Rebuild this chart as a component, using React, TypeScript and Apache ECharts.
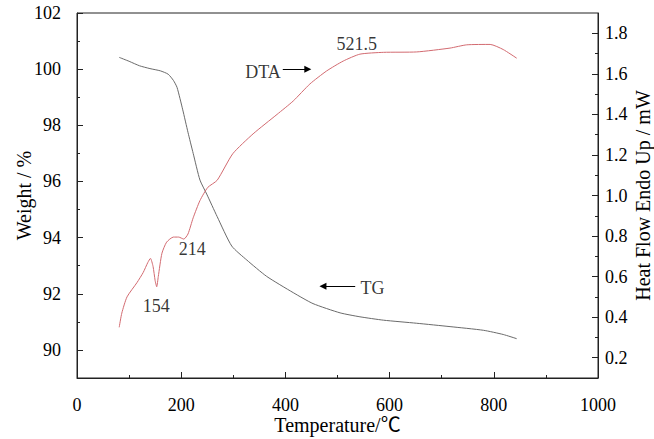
import React, { useEffect, useRef } from "react";
import * as echarts from "echarts";

// TG curve (left axis, Weight / %)
const tgTemp = [81, 100, 120, 140, 160, 175, 185, 192, 203, 213, 223, 236, 249, 269, 297, 326, 364, 415, 453, 505, 543, 588, 652, 716, 780, 818, 844];
const tgWeight = [100.42, 100.28, 100.12, 100.02, 99.94, 99.82, 99.6, 99.35, 98.55, 97.75, 97.0, 96.05, 95.55, 94.75, 93.7, 93.2, 92.62, 92.04, 91.65, 91.32, 91.18, 91.06, 90.95, 90.83, 90.7, 90.55, 90.4];

// DTA curve (right axis, Heat Flow / mW)
const dtaTemp = [81, 86, 96, 115, 127, 136, 141, 146, 150, 153, 156, 163, 172, 185, 195, 205, 213, 223, 236, 251, 269, 299, 338, 384, 415, 447, 479, 511, 543, 588, 652, 716, 748, 793, 818, 844];
const dtaHeat = [0.35, 0.42, 0.5, 0.57, 0.62, 0.67, 0.69, 0.65, 0.58, 0.55, 0.6, 0.715, 0.77, 0.795, 0.795, 0.785, 0.81, 0.89, 0.975, 1.04, 1.075, 1.206, 1.304, 1.4, 1.466, 1.55, 1.614, 1.663, 1.697, 1.706, 1.708, 1.727, 1.743, 1.745, 1.72, 1.677];

// Tick labels
const weightTicks = [90, 92, 94, 96, 98, 100, 102];
const weightMinor = [91, 93, 95, 97, 99, 101];
const heatTicks = [0.2, 0.4, 0.6, 0.8, 1.0, 1.2, 1.4, 1.6, 1.8];
const heatMinor = [0.3, 0.5, 0.7, 0.9, 1.1, 1.3, 1.5, 1.7];

// Annotations [temperature, value, text]
const dtaNotes: [number, number, string][] = [
  [357, 1.609, "DTA"],
  [537, 1.746, "521.5"],
  [221, 0.735, "214"],
  [152, 0.455, "154"],
];
const tgNotes: [number, number, string][] = [[567, 92.2, "TG"]];
const dtaArrow = [[395, 1.623], [443, 1.623]];
const tgArrow = [[534, 92.27], [472, 92.27]];

const FONT = "'Liberation Serif', 'Noto Sans CJK SC', serif";

export default function App() {
  const ref = useRef<HTMLDivElement>(null);
  useEffect(() => {
    if (!ref.current) return;
    const chart = echarts.init(ref.current, undefined, { renderer: "svg" });
    const axisLineStyle = { color: "#222", width: 1 };
    const labelStyle = { color: "#000", fontFamily: FONT, fontSize: 18 };
    const nameStyle = { color: "#000", fontFamily: FONT, fontSize: 20, lineHeight: 20 };
    const noteSeries = (notes: [number, number, string][], yIdx: number) => ({
      type: "scatter",
      yAxisIndex: yIdx,
      symbolSize: 1,
      itemStyle: { color: "rgba(0,0,0,0)" },
      silent: true,
      data: notes.map((n) => [n[0], n[1], n[2]]),
      label: {
        show: true,
        position: "inside",
        formatter: (p: any) => p.data[2],
        color: "#000",
        fontFamily: FONT,
        fontSize: 18,
      },
      z: 5,
    });
    const arrowLine = (pts: number[][]) => ({
      silent: true,
      symbol: ["none", "triangle"],
      symbolSize: 7,
      label: { show: false },
      lineStyle: { color: "#000", width: 1, type: "solid" },
      emphasis: { disabled: true },
      data: [[{ coord: pts[0] }, { coord: pts[1] }]],
    });
    chart.setOption({
      animation: false,
      backgroundColor: "#fff",
      grid: {
        left: 77,
        right: 56,
        top: 13,
        bottom: 61,
        show: true,
        containLabel: false,
        outerBoundsMode: "none",
        borderColor: "#222",
        borderWidth: 1,
        backgroundColor: "transparent",
      },
      xAxis: {
        type: "value",
        min: 0,
        max: 1000,
        interval: 200,
        name: "Temperature/℃",
        nameLocation: "middle",
        nameGap: 37,
        nameMoveOverlap: false,
        nameTextStyle: nameStyle,
        axisLine: { lineStyle: axisLineStyle },
        axisTick: { inside: true, length: 6, lineStyle: axisLineStyle },
        minorTick: { show: true, splitNumber: 2, length: 3, lineStyle: axisLineStyle },
        axisLabel: { ...labelStyle, margin: 18, formatter: (v: number) => String(v) },
        splitLine: { show: false },
      },
      yAxis: [
        {
          type: "value",
          position: "left",
          min: 89,
          max: 102,
          name: "Weight / %",
          nameLocation: "middle",
          nameRotate: 90,
          nameGap: 43,
          nameMoveOverlap: false,
          nameTextStyle: nameStyle,
          axisLine: { show: true, lineStyle: axisLineStyle },
          axisTick: { show: true, inside: true, length: 6, lineStyle: axisLineStyle, customValues: weightTicks },
          axisLabel: { ...labelStyle, margin: 16, customValues: weightTicks },
          splitLine: { show: false },
        },
        {
          type: "value",
          position: "right",
          min: 0.1,
          max: 1.9,
          name: "Heat Flow Endo Up / mW",
          nameLocation: "middle",
          nameRotate: 90,
          nameGap: 35,
          nameMoveOverlap: false,
          nameTextStyle: nameStyle,
          axisLine: { show: true, lineStyle: axisLineStyle },
          axisTick: { show: true, inside: true, length: 6, lineStyle: axisLineStyle, customValues: heatTicks },
          axisLabel: { ...labelStyle, margin: 7, customValues: heatTicks, formatter: (v: number) => v.toFixed(1) },
          splitLine: { show: false },
        },
        {
          type: "value",
          position: "left",
          min: 89,
          max: 102,
          axisLine: { show: false },
          axisTick: { show: true, inside: true, length: 3, lineStyle: axisLineStyle, customValues: weightMinor },
          axisLabel: { show: false },
          splitLine: { show: false },
        },
        {
          type: "value",
          position: "right",
          min: 0.1,
          max: 1.9,
          axisLine: { show: false },
          axisTick: { show: true, inside: true, length: 3, lineStyle: axisLineStyle, customValues: heatMinor },
          axisLabel: { show: false },
          splitLine: { show: false },
        },
      ],
      series: [
        {
          name: "TG",
          type: "line",
          yAxisIndex: 0,
          smooth: 0.2,
          showSymbol: false,
          symbol: "none",
          lineStyle: { color: "#6a6a6a", width: 1 },
          data: tgTemp.map((t, i) => [t, tgWeight[i]]),
          markLine: arrowLine(tgArrow),
        },
        {
          name: "DTA",
          type: "line",
          yAxisIndex: 1,
          smooth: 0.2,
          showSymbol: false,
          symbol: "none",
          lineStyle: { color: "#d26a70", width: 1 },
          data: dtaTemp.map((t, i) => [t, dtaHeat[i]]),
          markLine: arrowLine(dtaArrow),
        },
        noteSeries(dtaNotes, 1),
        noteSeries(tgNotes, 0),
      ],
    });
    return () => chart.dispose();
  }, []);
  return <div ref={ref} style={{ width: 654, height: 439, position: "absolute", left: 0, top: 0 }} />;
}
